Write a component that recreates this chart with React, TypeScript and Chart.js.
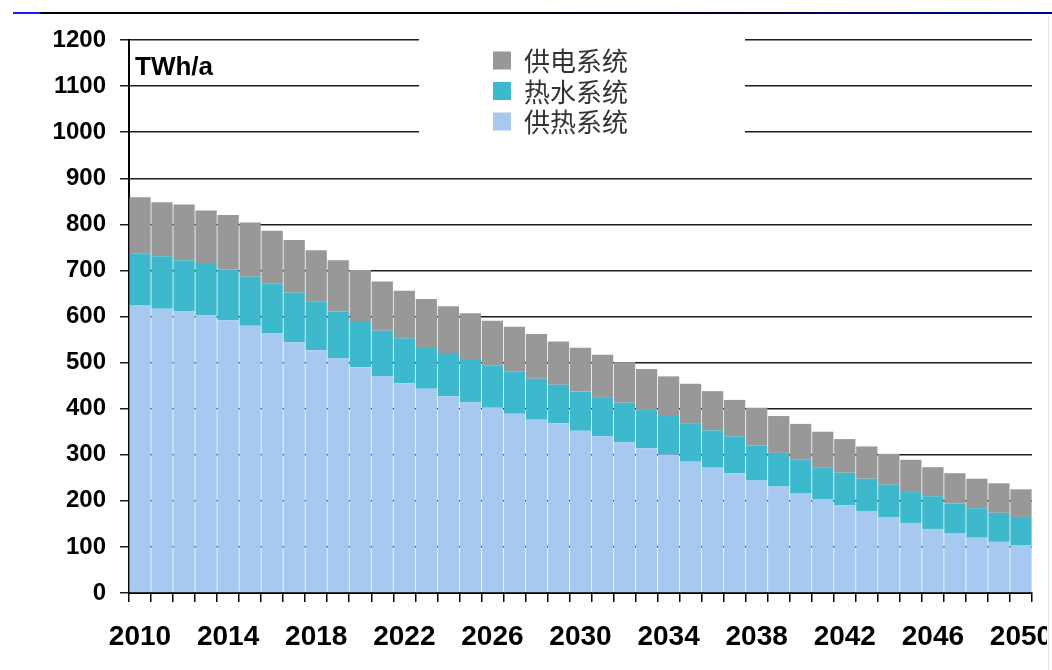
import React, { useEffect, useRef } from "react";
import { Chart, registerables } from "chart.js";

Chart.register(...registerables);

// Years on the category axis
const years: string[] = [
  "2010", "2011", "2012", "2013", "2014", "2015", "2016", "2017", "2018", "2019",
  "2020", "2021", "2022", "2023", "2024", "2025", "2026", "2027", "2028", "2029",
  "2030", "2031", "2032", "2033", "2034", "2035", "2036", "2037", "2038", "2039",
  "2040", "2041", "2042", "2043", "2044", "2045", "2046", "2047", "2048", "2049",
  "2050",
];

// Only every fourth year gets a printed label
const labeledYears: string[] = ["2010", "2014", "2018", "2022", "2026", "2030", "2034", "2038", "2042", "2046", "2050"];

// 供热系统 (space heating), TWh/a
const heatingSystem: number[] = [
  624, 617, 611, 602, 592, 580, 563, 544, 527, 509,
  490, 471, 455, 443, 427, 414, 402, 389, 376, 368,
  352, 340, 327, 314, 301, 285, 272, 260, 244, 231,
  217, 204, 190, 178, 165, 152, 139, 130, 120, 111,
  104,
];

// 热水系统 (hot water), TWh/a
const hotWaterSystem: number[] = [
  113, 114, 111, 114, 110, 106, 108, 108, 106, 102,
  100, 98, 98, 91, 94, 94, 91, 91, 89, 84,
  85, 85, 86, 83, 83, 82, 81, 80, 76, 73,
  73, 69, 71, 70, 70, 67, 71, 64, 64, 63,
  61,
];

// 供电系统 (power supply), TWh/a
const powerSystem: number[] = [
  122, 117, 121, 114, 118, 118, 115, 114, 111, 111,
  111, 107, 103, 104, 101, 99, 98, 98, 97, 94,
  95, 92, 88, 89, 86, 87, 85, 79, 82, 80,
  77, 77, 73, 70, 67, 70, 63, 66, 64, 64,
  60,
];

const yTicks: number[] = [0, 100, 200, 300, 400, 500, 600, 700, 800, 900, 1000, 1100, 1200];

const unitLabel = "TWh/a";

const COLORS = {
  heating: "#a7c8ef",
  hotWater: "#3db8cc",
  power: "#989898",
};

const NUM_FONT = "'Liberation Sans', Arial, Helvetica, sans-serif";
const CJK_FONT = "'Noto Sans CJK SC', 'Noto Sans', sans-serif";

// Legend in a white box inside the plot, plus the unit caption
const overlayPlugin = {
  id: "overlayLegend",
  afterDraw(chart: any) {
    const ctx = chart.ctx as CanvasRenderingContext2D;
    const area = chart.chartArea;
    ctx.save();

    // unit caption
    ctx.fillStyle = "#000";
    ctx.font = `bold 26px ${NUM_FONT}`;
    ctx.textAlign = "left";
    ctx.textBaseline = "middle";
    ctx.fillText(unitLabel, area.left + 6, area.top + 28);

    // legend box
    ctx.fillStyle = "#ffffff";
    ctx.fillRect(419, area.top - 12, 326, 122);

    const items = chart.data.datasets.slice().reverse();
    const sq = 18;
    const x0 = 493;
    const rowH = 30.5;
    const y0 = 60.5;
    ctx.font = `26px ${CJK_FONT}`;
    ctx.textBaseline = "middle";
    items.forEach((ds: any, i: number) => {
      const cy = y0 + i * rowH;
      ctx.fillStyle = ds.backgroundColor;
      ctx.fillRect(x0, cy - sq / 2, sq, sq);
      ctx.fillStyle = "#333333";
      ctx.fillText(ds.label, 524, cy + 1);
    });
    ctx.restore();
  },
};

export default function App() {
  const canvasRef = useRef<HTMLCanvasElement | null>(null);

  useEffect(() => {
    const canvas = canvasRef.current;
    if (!canvas) return;

    const chart = new Chart(canvas, {
      type: "bar",
      data: {
        labels: years,
        datasets: [
          {
            label: "供热系统",
            data: heatingSystem,
            backgroundColor: COLORS.heating,
            barPercentage: 0.965,
            categoryPercentage: 1,
          },
          {
            label: "热水系统",
            data: hotWaterSystem,
            backgroundColor: COLORS.hotWater,
            barPercentage: 0.965,
            categoryPercentage: 1,
          },
          {
            label: "供电系统",
            data: powerSystem,
            backgroundColor: COLORS.power,
            barPercentage: 0.965,
            categoryPercentage: 1,
          },
        ],
      },
      options: {
        animation: false,
        responsive: false,
        devicePixelRatio: 1,
        layout: { padding: { top: 40, right: 20, left: 0, bottom: 0 } },
        plugins: {
          legend: { display: false },
          tooltip: { enabled: false },
        },
        scales: {
          x: {
            stacked: true,
            grid: {
              offset: true,
              drawOnChartArea: false,
              drawTicks: true,
              tickLength: 9,
              color: "#000",
              lineWidth: 1.5,
            },
            border: { display: true, color: "#000", width: 2 },
            ticks: {
              autoSkip: false,
              maxRotation: 0,
              minRotation: 0,
              padding: 18,
              color: "#000",
              font: { family: NUM_FONT, size: 28, weight: "bold" },
              callback: (_v: any, i: number) => (labeledYears.includes(years[i]) ? years[i] : ""),
            },
            afterFit: (scale: any) => {
              scale.height = 77;
              scale.paddingLeft = 0;
              scale.paddingRight = 0;
            },
          },
          y: {
            stacked: true,
            min: yTicks[0],
            max: yTicks[yTicks.length - 1],
            afterBuildTicks: (scale: any) => {
              scale.ticks = yTicks.map((v) => ({ value: v }));
            },
            grid: {
              color: "#1e1e1e",
              lineWidth: 1.5,
              drawTicks: true,
              tickLength: 9,
            },
            border: { display: true, color: "#000", width: 2 },
            ticks: {
              padding: 14,
              color: "#000",
              font: { family: NUM_FONT, size: 24, weight: "bold" },
              callback: (v: any) => String(v),
            },
            afterFit: (scale: any) => {
              scale.width = 129;
            },
          },
        },
      },
      plugins: [overlayPlugin],
    });

    return () => chart.destroy();
  }, []);

  return (
    <div
      style={{
        position: "fixed",
        left: 0,
        top: 0,
        width: 1052,
        height: 670,
        background: "#fff",
        overflow: "hidden",
      }}
    >
      <div style={{ position: "absolute", left: 0, top: 0, width: 1047, height: 670, overflow: "hidden" }}>
        <canvas ref={canvasRef} width={1052} height={670} style={{ display: "block" }} />
      </div>
      {/* header rule */}
      <div
        style={{
          position: "absolute",
          left: 13,
          top: 12,
          width: 1039,
          height: 1.5,
          background: "linear-gradient(to right, #1a1aff 0px, #1a1aff 27px, #000 27px, #000 45%, #00008c 100%)",
        }}
      />
      {/* faint frame edge */}
      <div style={{ position: "absolute", left: 1048, top: 16, width: 1, height: 654, background: "#e6e6e6" }} />
    </div>
  );
}
